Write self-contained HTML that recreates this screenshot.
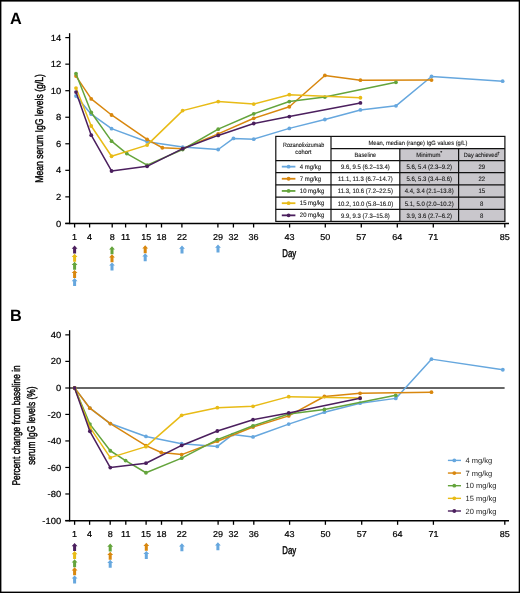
<!DOCTYPE html><html><head><meta charset="utf-8"><style>html,body{margin:0;padding:0;background:#fff}svg{display:block;will-change:transform;text-rendering:geometricPrecision;filter:blur(0.3px)}</style></head><body>
<svg width="520" height="593" viewBox="0 0 520 593" font-family='"Liberation Sans", sans-serif' fill="#000">
<rect x="0" y="0" width="520" height="593" fill="#fff"/>
<text x="10" y="23.7" font-size="16.3" font-weight="bold">A</text>
<line x1="69.6" y1="33.2" x2="69.6" y2="224.15" stroke="#000" stroke-width="1.3"/>
<line x1="65.3" y1="223.50" x2="509" y2="223.50" stroke="#000" stroke-width="1.4"/>
<line x1="65.3" y1="223.40" x2="69.6" y2="223.40" stroke="#000" stroke-width="1.2"/>
<text transform="translate(61.2,226.50) scale(1.07,1)" font-size="8.8" text-anchor="end" stroke="#000" stroke-width="0.2">0</text>
<line x1="65.3" y1="196.86" x2="69.6" y2="196.86" stroke="#000" stroke-width="1.2"/>
<text transform="translate(61.2,199.96) scale(1.07,1)" font-size="8.8" text-anchor="end" stroke="#000" stroke-width="0.2">2</text>
<line x1="65.3" y1="170.32" x2="69.6" y2="170.32" stroke="#000" stroke-width="1.2"/>
<text transform="translate(61.2,173.42) scale(1.07,1)" font-size="8.8" text-anchor="end" stroke="#000" stroke-width="0.2">4</text>
<line x1="65.3" y1="143.78" x2="69.6" y2="143.78" stroke="#000" stroke-width="1.2"/>
<text transform="translate(61.2,146.88) scale(1.07,1)" font-size="8.8" text-anchor="end" stroke="#000" stroke-width="0.2">6</text>
<line x1="65.3" y1="117.24" x2="69.6" y2="117.24" stroke="#000" stroke-width="1.2"/>
<text transform="translate(61.2,120.34) scale(1.07,1)" font-size="8.8" text-anchor="end" stroke="#000" stroke-width="0.2">8</text>
<line x1="65.3" y1="90.70" x2="69.6" y2="90.70" stroke="#000" stroke-width="1.2"/>
<text transform="translate(61.2,93.80) scale(1.07,1)" font-size="8.8" text-anchor="end" stroke="#000" stroke-width="0.2">10</text>
<line x1="65.3" y1="64.16" x2="69.6" y2="64.16" stroke="#000" stroke-width="1.2"/>
<text transform="translate(61.2,67.26) scale(1.07,1)" font-size="8.8" text-anchor="end" stroke="#000" stroke-width="0.2">12</text>
<line x1="65.3" y1="37.62" x2="69.6" y2="37.62" stroke="#000" stroke-width="1.2"/>
<text transform="translate(61.2,40.72) scale(1.07,1)" font-size="8.8" text-anchor="end" stroke="#000" stroke-width="0.2">14</text>
<line x1="74.6" y1="223.50" x2="74.6" y2="227.50" stroke="#000" stroke-width="1.3"/>
<text transform="translate(74.6,239.70) scale(1.05,1)" font-size="8.6" text-anchor="middle" stroke="#000" stroke-width="0.2">1</text>
<line x1="89.6" y1="223.50" x2="89.6" y2="227.50" stroke="#000" stroke-width="1.3"/>
<text transform="translate(89.6,239.70) scale(1.05,1)" font-size="8.6" text-anchor="middle" stroke="#000" stroke-width="0.2">4</text>
<line x1="112.2" y1="223.50" x2="112.2" y2="227.50" stroke="#000" stroke-width="1.3"/>
<text transform="translate(112.2,239.70) scale(1.05,1)" font-size="8.6" text-anchor="middle" stroke="#000" stroke-width="0.2">8</text>
<line x1="125.6" y1="223.50" x2="125.6" y2="227.50" stroke="#000" stroke-width="1.3"/>
<text transform="translate(125.6,239.70) scale(1.05,1)" font-size="8.6" text-anchor="middle" stroke="#000" stroke-width="0.2">11</text>
<line x1="146.3" y1="223.50" x2="146.3" y2="227.50" stroke="#000" stroke-width="1.3"/>
<text transform="translate(146.3,239.70) scale(1.05,1)" font-size="8.6" text-anchor="middle" stroke="#000" stroke-width="0.2">15</text>
<line x1="161.5" y1="223.50" x2="161.5" y2="227.50" stroke="#000" stroke-width="1.3"/>
<text transform="translate(161.5,239.70) scale(1.05,1)" font-size="8.6" text-anchor="middle" stroke="#000" stroke-width="0.2">18</text>
<line x1="181.9" y1="223.50" x2="181.9" y2="227.50" stroke="#000" stroke-width="1.3"/>
<text transform="translate(181.9,239.70) scale(1.05,1)" font-size="8.6" text-anchor="middle" stroke="#000" stroke-width="0.2">22</text>
<line x1="217.9" y1="223.50" x2="217.9" y2="227.50" stroke="#000" stroke-width="1.3"/>
<text transform="translate(217.9,239.70) scale(1.05,1)" font-size="8.6" text-anchor="middle" stroke="#000" stroke-width="0.2">29</text>
<line x1="233.4" y1="223.50" x2="233.4" y2="227.50" stroke="#000" stroke-width="1.3"/>
<text transform="translate(233.4,239.70) scale(1.05,1)" font-size="8.6" text-anchor="middle" stroke="#000" stroke-width="0.2">32</text>
<line x1="253.6" y1="223.50" x2="253.6" y2="227.50" stroke="#000" stroke-width="1.3"/>
<text transform="translate(253.6,239.70) scale(1.05,1)" font-size="8.6" text-anchor="middle" stroke="#000" stroke-width="0.2">36</text>
<line x1="289.6" y1="223.50" x2="289.6" y2="227.50" stroke="#000" stroke-width="1.3"/>
<text transform="translate(289.6,239.70) scale(1.05,1)" font-size="8.6" text-anchor="middle" stroke="#000" stroke-width="0.2">43</text>
<line x1="325.3" y1="223.50" x2="325.3" y2="227.50" stroke="#000" stroke-width="1.3"/>
<text transform="translate(325.3,239.70) scale(1.05,1)" font-size="8.6" text-anchor="middle" stroke="#000" stroke-width="0.2">50</text>
<line x1="361.3" y1="223.50" x2="361.3" y2="227.50" stroke="#000" stroke-width="1.3"/>
<text transform="translate(361.3,239.70) scale(1.05,1)" font-size="8.6" text-anchor="middle" stroke="#000" stroke-width="0.2">57</text>
<line x1="397.3" y1="223.50" x2="397.3" y2="227.50" stroke="#000" stroke-width="1.3"/>
<text transform="translate(397.3,239.70) scale(1.05,1)" font-size="8.6" text-anchor="middle" stroke="#000" stroke-width="0.2">64</text>
<line x1="433.3" y1="223.50" x2="433.3" y2="227.50" stroke="#000" stroke-width="1.3"/>
<text transform="translate(433.3,239.70) scale(1.05,1)" font-size="8.6" text-anchor="middle" stroke="#000" stroke-width="0.2">71</text>
<line x1="504.8" y1="223.50" x2="504.8" y2="227.50" stroke="#000" stroke-width="1.3"/>
<text transform="translate(504.8,239.70) scale(1.05,1)" font-size="8.6" text-anchor="middle" stroke="#000" stroke-width="0.2">85</text>
<text transform="translate(289.3,256.50) scale(0.7,1)" font-size="11.2" text-anchor="middle" stroke="#000" stroke-width="0.42">Day</text>
<polygon points="74.60,245.60 77.50,248.80 76.10,248.80 76.10,253.60 73.10,253.60 73.10,248.80 71.70,248.80" fill="#4b1f5e"/>
<polygon points="74.60,253.70 77.50,256.90 76.10,256.90 76.10,261.70 73.10,261.70 73.10,256.90 71.70,256.90" fill="#e8bb16"/>
<polygon points="74.60,261.80 77.50,265.00 76.10,265.00 76.10,269.80 73.10,269.80 73.10,265.00 71.70,265.00" fill="#64a43c"/>
<polygon points="74.60,269.90 77.50,273.10 76.10,273.10 76.10,277.90 73.10,277.90 73.10,273.10 71.70,273.10" fill="#d8870e"/>
<polygon points="74.60,278.00 77.50,281.20 76.10,281.20 76.10,286.00 73.10,286.00 73.10,281.20 71.70,281.20" fill="#66a7de"/>
<polygon points="112.00,246.20 114.90,249.40 113.50,249.40 113.50,254.20 110.50,254.20 110.50,249.40 109.10,249.40" fill="#64a43c"/>
<polygon points="112.00,254.30 114.90,257.50 113.50,257.50 113.50,262.30 110.50,262.30 110.50,257.50 109.10,257.50" fill="#d8870e"/>
<polygon points="112.00,262.40 114.90,265.60 113.50,265.60 113.50,270.40 110.50,270.40 110.50,265.60 109.10,265.60" fill="#66a7de"/>
<polygon points="145.20,245.20 148.10,248.40 146.70,248.40 146.70,253.20 143.70,253.20 143.70,248.40 142.30,248.40" fill="#d8870e"/>
<polygon points="145.20,253.30 148.10,256.50 146.70,256.50 146.70,261.30 143.70,261.30 143.70,256.50 142.30,256.50" fill="#66a7de"/>
<polygon points="182.00,245.60 184.90,248.80 183.50,248.80 183.50,253.60 180.50,253.60 180.50,248.80 179.10,248.80" fill="#66a7de"/>
<polygon points="218.00,244.60 220.90,247.80 219.50,247.80 219.50,252.60 216.50,252.60 216.50,247.80 215.10,247.80" fill="#66a7de"/>
<text transform="translate(43.2,128.4) rotate(-90) scale(0.77,1)" font-size="11.2" text-anchor="middle" stroke="#000" stroke-width="0.42">Mean serum IgG levels (g/L)</text>
<polyline points="76.00,96.01 91.24,114.19 111.55,128.65 147.11,141.79 182.66,147.10 218.21,149.49 233.45,138.47 253.76,139.14 289.32,128.39 324.87,119.50 360.42,109.94 395.98,105.83 431.53,76.50 502.64,81.15" fill="none" stroke="#66a7de" stroke-width="1.5" stroke-linejoin="round"/>
<circle cx="76.00" cy="96.01" r="1.9" fill="#66a7de"/>
<circle cx="91.24" cy="114.19" r="1.9" fill="#66a7de"/>
<circle cx="111.55" cy="128.65" r="1.9" fill="#66a7de"/>
<circle cx="147.11" cy="141.79" r="1.9" fill="#66a7de"/>
<circle cx="182.66" cy="147.10" r="1.9" fill="#66a7de"/>
<circle cx="218.21" cy="149.49" r="1.9" fill="#66a7de"/>
<circle cx="233.45" cy="138.47" r="1.9" fill="#66a7de"/>
<circle cx="253.76" cy="139.14" r="1.9" fill="#66a7de"/>
<circle cx="289.32" cy="128.39" r="1.9" fill="#66a7de"/>
<circle cx="324.87" cy="119.50" r="1.9" fill="#66a7de"/>
<circle cx="360.42" cy="109.94" r="1.9" fill="#66a7de"/>
<circle cx="395.98" cy="105.83" r="1.9" fill="#66a7de"/>
<circle cx="431.53" cy="76.50" r="1.9" fill="#66a7de"/>
<circle cx="502.64" cy="81.15" r="1.9" fill="#66a7de"/>
<polyline points="76.00,76.10 91.24,98.93 111.55,114.98 147.11,139.40 162.34,147.76 182.66,148.69 218.21,133.83 253.76,118.30 289.32,106.76 324.87,75.44 360.42,80.22 431.53,80.08" fill="none" stroke="#d8870e" stroke-width="1.5" stroke-linejoin="round"/>
<circle cx="76.00" cy="76.10" r="1.9" fill="#d8870e"/>
<circle cx="91.24" cy="98.93" r="1.9" fill="#d8870e"/>
<circle cx="111.55" cy="114.98" r="1.9" fill="#d8870e"/>
<circle cx="147.11" cy="139.40" r="1.9" fill="#d8870e"/>
<circle cx="162.34" cy="147.76" r="1.9" fill="#d8870e"/>
<circle cx="182.66" cy="148.69" r="1.9" fill="#d8870e"/>
<circle cx="218.21" cy="133.83" r="1.9" fill="#d8870e"/>
<circle cx="253.76" cy="118.30" r="1.9" fill="#d8870e"/>
<circle cx="289.32" cy="106.76" r="1.9" fill="#d8870e"/>
<circle cx="324.87" cy="75.44" r="1.9" fill="#d8870e"/>
<circle cx="360.42" cy="80.22" r="1.9" fill="#d8870e"/>
<circle cx="431.53" cy="80.08" r="1.9" fill="#d8870e"/>
<polyline points="76.00,73.71 91.24,112.46 111.55,141.13 126.79,153.60 147.11,165.14 182.66,149.49 218.21,129.18 253.76,113.79 289.32,101.58 324.87,97.07 395.98,82.34" fill="none" stroke="#64a43c" stroke-width="1.5" stroke-linejoin="round"/>
<circle cx="76.00" cy="73.71" r="1.9" fill="#64a43c"/>
<circle cx="91.24" cy="112.46" r="1.9" fill="#64a43c"/>
<circle cx="111.55" cy="141.13" r="1.9" fill="#64a43c"/>
<circle cx="126.79" cy="153.60" r="1.9" fill="#64a43c"/>
<circle cx="147.11" cy="165.14" r="1.9" fill="#64a43c"/>
<circle cx="182.66" cy="149.49" r="1.9" fill="#64a43c"/>
<circle cx="218.21" cy="129.18" r="1.9" fill="#64a43c"/>
<circle cx="253.76" cy="113.79" r="1.9" fill="#64a43c"/>
<circle cx="289.32" cy="101.58" r="1.9" fill="#64a43c"/>
<circle cx="324.87" cy="97.07" r="1.9" fill="#64a43c"/>
<circle cx="395.98" cy="82.34" r="1.9" fill="#64a43c"/>
<polyline points="76.00,88.05 91.24,126.00 111.55,156.25 147.11,145.11 182.66,110.61 218.21,101.58 253.76,104.10 289.32,94.68 360.42,97.73" fill="none" stroke="#e8bb16" stroke-width="1.5" stroke-linejoin="round"/>
<circle cx="76.00" cy="88.05" r="1.9" fill="#e8bb16"/>
<circle cx="91.24" cy="126.00" r="1.9" fill="#e8bb16"/>
<circle cx="111.55" cy="156.25" r="1.9" fill="#e8bb16"/>
<circle cx="147.11" cy="145.11" r="1.9" fill="#e8bb16"/>
<circle cx="182.66" cy="110.61" r="1.9" fill="#e8bb16"/>
<circle cx="218.21" cy="101.58" r="1.9" fill="#e8bb16"/>
<circle cx="253.76" cy="104.10" r="1.9" fill="#e8bb16"/>
<circle cx="289.32" cy="94.68" r="1.9" fill="#e8bb16"/>
<circle cx="360.42" cy="97.73" r="1.9" fill="#e8bb16"/>
<polyline points="76.00,92.03 91.24,135.15 111.55,170.98 147.11,166.34 182.66,148.69 218.21,135.42 253.76,123.48 289.32,116.58 360.42,102.91" fill="none" stroke="#4b1f5e" stroke-width="1.5" stroke-linejoin="round"/>
<circle cx="76.00" cy="92.03" r="1.9" fill="#4b1f5e"/>
<circle cx="91.24" cy="135.15" r="1.9" fill="#4b1f5e"/>
<circle cx="111.55" cy="170.98" r="1.9" fill="#4b1f5e"/>
<circle cx="147.11" cy="166.34" r="1.9" fill="#4b1f5e"/>
<circle cx="182.66" cy="148.69" r="1.9" fill="#4b1f5e"/>
<circle cx="218.21" cy="135.42" r="1.9" fill="#4b1f5e"/>
<circle cx="253.76" cy="123.48" r="1.9" fill="#4b1f5e"/>
<circle cx="289.32" cy="116.58" r="1.9" fill="#4b1f5e"/>
<circle cx="360.42" cy="102.91" r="1.9" fill="#4b1f5e"/>
<rect x="399.8" y="148.6" width="105.09999999999997" height="72.80000000000001" fill="#c9c7cc"/>
<rect x="275.8" y="136.4" width="229.09999999999997" height="85.0" fill="none" stroke="#111" stroke-width="1.2"/>
<line x1="331.0" y1="148.6" x2="504.9" y2="148.6" stroke="#111" stroke-width="1.2"/>
<line x1="275.8" y1="160.6" x2="504.9" y2="160.6" stroke="#111" stroke-width="1.2"/>
<line x1="275.8" y1="172.7" x2="504.9" y2="172.7" stroke="#111" stroke-width="1.2"/>
<line x1="275.8" y1="184.8" x2="504.9" y2="184.8" stroke="#111" stroke-width="1.2"/>
<line x1="275.8" y1="197.1" x2="504.9" y2="197.1" stroke="#111" stroke-width="1.2"/>
<line x1="275.8" y1="209.3" x2="504.9" y2="209.3" stroke="#111" stroke-width="1.2"/>
<line x1="331.0" y1="136.4" x2="331.0" y2="221.4" stroke="#111" stroke-width="1.2"/>
<line x1="399.8" y1="148.6" x2="399.8" y2="221.4" stroke="#111" stroke-width="1.2"/>
<line x1="458.6" y1="148.6" x2="458.6" y2="221.4" stroke="#111" stroke-width="1.2"/>
<text transform="translate(303.70,146.90) scale(0.877,1)" font-size="6.2" text-anchor="middle" fill="#1a1a1a" stroke="#1a1a1a" stroke-width="0.12">Rozanolixizumab</text>
<text transform="translate(303.40,154.10) scale(0.934,1)" font-size="6.2" text-anchor="middle" fill="#1a1a1a" stroke="#1a1a1a" stroke-width="0.12">cohort</text>
<text transform="translate(417.95,144.90) scale(0.929,1)" font-size="6.2" text-anchor="middle" fill="#1a1a1a" stroke="#1a1a1a" stroke-width="0.12">Mean, median (range) IgG values (g/L)</text>
<text transform="translate(365.40,156.60) scale(0.917,1)" font-size="6.2" text-anchor="middle" fill="#1a1a1a" stroke="#1a1a1a" stroke-width="0.12">Baseline</text>
<text transform="translate(429.20,156.60) scale(0.96,1)" font-size="6.2" text-anchor="middle" fill="#1a1a1a" stroke="#1a1a1a" stroke-width="0.12">Minimum<tspan font-size="4.4" dy="-2.2" font-weight="bold">*</tspan></text>
<text transform="translate(481.75,156.60) scale(0.9,1)" font-size="6.2" text-anchor="middle" fill="#1a1a1a" stroke="#1a1a1a" stroke-width="0.12">Day achieved<tspan font-size="4.4" dy="-2" font-weight="bold">†</tspan></text>
<line x1="281.8" y1="166.65" x2="295.4" y2="166.65" stroke="#66a7de" stroke-width="1.8"/>
<circle cx="288.6" cy="166.65" r="1.9" fill="#66a7de"/>
<text transform="translate(299.80,168.65) scale(0.92,1)" font-size="6.5" text-anchor="start" fill="#1a1a1a" stroke="#1a1a1a" stroke-width="0.12">4 mg/kg</text>
<text transform="translate(365.40,168.95) scale(0.92,1)" font-size="6.5" text-anchor="middle" fill="#1a1a1a" stroke="#1a1a1a" stroke-width="0.12">9.6, 9.5 (6.2–13.4)</text>
<text transform="translate(429.20,168.95) scale(0.92,1)" font-size="6.5" text-anchor="middle" fill="#1a1a1a" stroke="#1a1a1a" stroke-width="0.12">5.6, 5.4 (2.3–9.2)</text>
<text transform="translate(481.75,168.95) scale(0.92,1)" font-size="6.5" text-anchor="middle" fill="#1a1a1a" stroke="#1a1a1a" stroke-width="0.12">29</text>
<line x1="281.8" y1="178.75" x2="295.4" y2="178.75" stroke="#d8870e" stroke-width="1.8"/>
<circle cx="288.6" cy="178.75" r="1.9" fill="#d8870e"/>
<text transform="translate(299.80,180.75) scale(0.92,1)" font-size="6.5" text-anchor="start" fill="#1a1a1a" stroke="#1a1a1a" stroke-width="0.12">7 mg/kg</text>
<text transform="translate(365.40,181.05) scale(0.92,1)" font-size="6.5" text-anchor="middle" fill="#1a1a1a" stroke="#1a1a1a" stroke-width="0.12">11.1, 11.3 (6.7–14.7)</text>
<text transform="translate(429.20,181.05) scale(0.92,1)" font-size="6.5" text-anchor="middle" fill="#1a1a1a" stroke="#1a1a1a" stroke-width="0.12">5.6, 5.3 (3.4–8.6)</text>
<text transform="translate(481.75,181.05) scale(0.92,1)" font-size="6.5" text-anchor="middle" fill="#1a1a1a" stroke="#1a1a1a" stroke-width="0.12">22</text>
<line x1="281.8" y1="190.95" x2="295.4" y2="190.95" stroke="#64a43c" stroke-width="1.8"/>
<circle cx="288.6" cy="190.95" r="1.9" fill="#64a43c"/>
<text transform="translate(299.80,192.95) scale(0.92,1)" font-size="6.5" text-anchor="start" fill="#1a1a1a" stroke="#1a1a1a" stroke-width="0.12">10 mg/kg</text>
<text transform="translate(365.40,193.25) scale(0.92,1)" font-size="6.5" text-anchor="middle" fill="#1a1a1a" stroke="#1a1a1a" stroke-width="0.12">11.3, 10.6 (7.2–22.5)</text>
<text transform="translate(429.20,193.25) scale(0.92,1)" font-size="6.5" text-anchor="middle" fill="#1a1a1a" stroke="#1a1a1a" stroke-width="0.12">4.4, 3.4 (2.1–13.8)</text>
<text transform="translate(481.75,193.25) scale(0.92,1)" font-size="6.5" text-anchor="middle" fill="#1a1a1a" stroke="#1a1a1a" stroke-width="0.12">15</text>
<line x1="281.8" y1="203.20" x2="295.4" y2="203.20" stroke="#e8bb16" stroke-width="1.8"/>
<circle cx="288.6" cy="203.20" r="1.9" fill="#e8bb16"/>
<text transform="translate(299.80,205.20) scale(0.92,1)" font-size="6.5" text-anchor="start" fill="#1a1a1a" stroke="#1a1a1a" stroke-width="0.12">15 mg/kg</text>
<text transform="translate(365.40,205.50) scale(0.92,1)" font-size="6.5" text-anchor="middle" fill="#1a1a1a" stroke="#1a1a1a" stroke-width="0.12">10.2, 10.0 (5.8–16.0)</text>
<text transform="translate(429.20,205.50) scale(0.92,1)" font-size="6.5" text-anchor="middle" fill="#1a1a1a" stroke="#1a1a1a" stroke-width="0.12">5.1, 5.0 (2.0–10.2)</text>
<text transform="translate(481.75,205.50) scale(0.92,1)" font-size="6.5" text-anchor="middle" fill="#1a1a1a" stroke="#1a1a1a" stroke-width="0.12">8</text>
<line x1="281.8" y1="215.35" x2="295.4" y2="215.35" stroke="#4b1f5e" stroke-width="1.8"/>
<circle cx="288.6" cy="215.35" r="1.9" fill="#4b1f5e"/>
<text transform="translate(299.80,217.35) scale(0.92,1)" font-size="6.5" text-anchor="start" fill="#1a1a1a" stroke="#1a1a1a" stroke-width="0.12">20 mg/kg</text>
<text transform="translate(365.40,217.65) scale(0.92,1)" font-size="6.5" text-anchor="middle" fill="#1a1a1a" stroke="#1a1a1a" stroke-width="0.12">9.9, 9.3 (7.3–15.8)</text>
<text transform="translate(429.20,217.65) scale(0.92,1)" font-size="6.5" text-anchor="middle" fill="#1a1a1a" stroke="#1a1a1a" stroke-width="0.12">3.9, 3.6 (2.7–6.2)</text>
<text transform="translate(481.75,217.65) scale(0.92,1)" font-size="6.5" text-anchor="middle" fill="#1a1a1a" stroke="#1a1a1a" stroke-width="0.12">8</text>
<text x="10" y="320.7" font-size="16.3" font-weight="bold">B</text>
<line x1="65.3" y1="387.95" x2="504.6" y2="387.95" stroke="#333" stroke-width="1.4"/>
<line x1="69.6" y1="330.2" x2="69.6" y2="521.45" stroke="#000" stroke-width="1.3"/>
<line x1="65.3" y1="520.80" x2="509" y2="520.80" stroke="#000" stroke-width="1.4"/>
<line x1="65.3" y1="520.50" x2="69.6" y2="520.50" stroke="#000" stroke-width="1.2"/>
<text transform="translate(61.2,523.60) scale(1.07,1)" font-size="8.8" text-anchor="end" stroke="#000" stroke-width="0.2">-100</text>
<line x1="65.3" y1="493.98" x2="69.6" y2="493.98" stroke="#000" stroke-width="1.2"/>
<text transform="translate(61.2,497.08) scale(1.07,1)" font-size="8.8" text-anchor="end" stroke="#000" stroke-width="0.2">-80</text>
<line x1="65.3" y1="467.46" x2="69.6" y2="467.46" stroke="#000" stroke-width="1.2"/>
<text transform="translate(61.2,470.56) scale(1.07,1)" font-size="8.8" text-anchor="end" stroke="#000" stroke-width="0.2">-60</text>
<line x1="65.3" y1="440.94" x2="69.6" y2="440.94" stroke="#000" stroke-width="1.2"/>
<text transform="translate(61.2,444.04) scale(1.07,1)" font-size="8.8" text-anchor="end" stroke="#000" stroke-width="0.2">-40</text>
<line x1="65.3" y1="414.42" x2="69.6" y2="414.42" stroke="#000" stroke-width="1.2"/>
<text transform="translate(61.2,417.52) scale(1.07,1)" font-size="8.8" text-anchor="end" stroke="#000" stroke-width="0.2">-20</text>
<text transform="translate(61.2,391.00) scale(1.07,1)" font-size="8.8" text-anchor="end" stroke="#000" stroke-width="0.2">0</text>
<line x1="65.3" y1="361.38" x2="69.6" y2="361.38" stroke="#000" stroke-width="1.2"/>
<text transform="translate(61.2,364.48) scale(1.07,1)" font-size="8.8" text-anchor="end" stroke="#000" stroke-width="0.2">20</text>
<line x1="65.3" y1="334.86" x2="69.6" y2="334.86" stroke="#000" stroke-width="1.2"/>
<text transform="translate(61.2,337.96) scale(1.07,1)" font-size="8.8" text-anchor="end" stroke="#000" stroke-width="0.2">40</text>
<line x1="74.6" y1="520.80" x2="74.6" y2="524.80" stroke="#000" stroke-width="1.3"/>
<text transform="translate(74.6,537.00) scale(1.05,1)" font-size="8.6" text-anchor="middle" stroke="#000" stroke-width="0.2">1</text>
<line x1="89.6" y1="520.80" x2="89.6" y2="524.80" stroke="#000" stroke-width="1.3"/>
<text transform="translate(89.6,537.00) scale(1.05,1)" font-size="8.6" text-anchor="middle" stroke="#000" stroke-width="0.2">4</text>
<line x1="110.2" y1="520.80" x2="110.2" y2="524.80" stroke="#000" stroke-width="1.3"/>
<text transform="translate(110.2,537.00) scale(1.05,1)" font-size="8.6" text-anchor="middle" stroke="#000" stroke-width="0.2">8</text>
<line x1="125.8" y1="520.80" x2="125.8" y2="524.80" stroke="#000" stroke-width="1.3"/>
<text transform="translate(125.8,537.00) scale(1.05,1)" font-size="8.6" text-anchor="middle" stroke="#000" stroke-width="0.2">11</text>
<line x1="146.1" y1="520.80" x2="146.1" y2="524.80" stroke="#000" stroke-width="1.3"/>
<text transform="translate(146.1,537.00) scale(1.05,1)" font-size="8.6" text-anchor="middle" stroke="#000" stroke-width="0.2">15</text>
<line x1="161.5" y1="520.80" x2="161.5" y2="524.80" stroke="#000" stroke-width="1.3"/>
<text transform="translate(161.5,537.00) scale(1.05,1)" font-size="8.6" text-anchor="middle" stroke="#000" stroke-width="0.2">18</text>
<line x1="181.8" y1="520.80" x2="181.8" y2="524.80" stroke="#000" stroke-width="1.3"/>
<text transform="translate(181.8,537.00) scale(1.05,1)" font-size="8.6" text-anchor="middle" stroke="#000" stroke-width="0.2">22</text>
<line x1="218.1" y1="520.80" x2="218.1" y2="524.80" stroke="#000" stroke-width="1.3"/>
<text transform="translate(218.1,537.00) scale(1.05,1)" font-size="8.6" text-anchor="middle" stroke="#000" stroke-width="0.2">29</text>
<line x1="233.5" y1="520.80" x2="233.5" y2="524.80" stroke="#000" stroke-width="1.3"/>
<text transform="translate(233.5,537.00) scale(1.05,1)" font-size="8.6" text-anchor="middle" stroke="#000" stroke-width="0.2">32</text>
<line x1="253.8" y1="520.80" x2="253.8" y2="524.80" stroke="#000" stroke-width="1.3"/>
<text transform="translate(253.8,537.00) scale(1.05,1)" font-size="8.6" text-anchor="middle" stroke="#000" stroke-width="0.2">36</text>
<line x1="289.6" y1="520.80" x2="289.6" y2="524.80" stroke="#000" stroke-width="1.3"/>
<text transform="translate(289.6,537.00) scale(1.05,1)" font-size="8.6" text-anchor="middle" stroke="#000" stroke-width="0.2">43</text>
<line x1="325.4" y1="520.80" x2="325.4" y2="524.80" stroke="#000" stroke-width="1.3"/>
<text transform="translate(325.4,537.00) scale(1.05,1)" font-size="8.6" text-anchor="middle" stroke="#000" stroke-width="0.2">50</text>
<line x1="361.7" y1="520.80" x2="361.7" y2="524.80" stroke="#000" stroke-width="1.3"/>
<text transform="translate(361.7,537.00) scale(1.05,1)" font-size="8.6" text-anchor="middle" stroke="#000" stroke-width="0.2">57</text>
<line x1="397.6" y1="520.80" x2="397.6" y2="524.80" stroke="#000" stroke-width="1.3"/>
<text transform="translate(397.6,537.00) scale(1.05,1)" font-size="8.6" text-anchor="middle" stroke="#000" stroke-width="0.2">64</text>
<line x1="433.4" y1="520.80" x2="433.4" y2="524.80" stroke="#000" stroke-width="1.3"/>
<text transform="translate(433.4,537.00) scale(1.05,1)" font-size="8.6" text-anchor="middle" stroke="#000" stroke-width="0.2">71</text>
<line x1="504.8" y1="520.80" x2="504.8" y2="524.80" stroke="#000" stroke-width="1.3"/>
<text transform="translate(504.8,537.00) scale(1.05,1)" font-size="8.6" text-anchor="middle" stroke="#000" stroke-width="0.2">85</text>
<text transform="translate(289.3,553.80) scale(0.7,1)" font-size="11.2" text-anchor="middle" stroke="#000" stroke-width="0.42">Day</text>
<polygon points="74.60,543.00 77.50,546.20 76.10,546.20 76.10,551.00 73.10,551.00 73.10,546.20 71.70,546.20" fill="#4b1f5e"/>
<polygon points="74.60,551.10 77.50,554.30 76.10,554.30 76.10,559.10 73.10,559.10 73.10,554.30 71.70,554.30" fill="#e8bb16"/>
<polygon points="74.60,559.20 77.50,562.40 76.10,562.40 76.10,567.20 73.10,567.20 73.10,562.40 71.70,562.40" fill="#64a43c"/>
<polygon points="74.60,567.30 77.50,570.50 76.10,570.50 76.10,575.30 73.10,575.30 73.10,570.50 71.70,570.50" fill="#d8870e"/>
<polygon points="74.60,575.40 77.50,578.60 76.10,578.60 76.10,583.40 73.10,583.40 73.10,578.60 71.70,578.60" fill="#66a7de"/>
<polygon points="110.20,543.60 113.10,546.80 111.70,546.80 111.70,551.60 108.70,551.60 108.70,546.80 107.30,546.80" fill="#64a43c"/>
<polygon points="110.20,551.70 113.10,554.90 111.70,554.90 111.70,559.70 108.70,559.70 108.70,554.90 107.30,554.90" fill="#d8870e"/>
<polygon points="110.20,559.80 113.10,563.00 111.70,563.00 111.70,567.80 108.70,567.80 108.70,563.00 107.30,563.00" fill="#66a7de"/>
<polygon points="146.30,542.80 149.20,546.00 147.80,546.00 147.80,550.80 144.80,550.80 144.80,546.00 143.40,546.00" fill="#d8870e"/>
<polygon points="146.30,550.90 149.20,554.10 147.80,554.10 147.80,558.90 144.80,558.90 144.80,554.10 143.40,554.10" fill="#66a7de"/>
<polygon points="181.90,543.20 184.80,546.40 183.40,546.40 183.40,551.20 180.40,551.20 180.40,546.40 179.00,546.40" fill="#66a7de"/>
<polygon points="217.90,542.20 220.80,545.40 219.40,545.40 219.40,550.20 216.40,550.20 216.40,545.40 215.00,545.40" fill="#66a7de"/>
<text transform="translate(20.3,425.4) rotate(-90) scale(0.75,1)" font-size="11.2" text-anchor="middle" stroke="#000" stroke-width="0.42">Percent change from baseline in</text>
<text transform="translate(34.6,425.7) rotate(-90) scale(0.75,1)" font-size="11.2" text-anchor="middle" stroke="#000" stroke-width="0.42">serum IgG levels (%)</text>
<polyline points="74.60,387.90 89.89,408.19 110.29,423.57 145.97,436.43 181.66,443.72 217.34,446.38 232.64,434.58 253.03,436.96 288.72,424.10 324.40,412.17 360.09,403.15 395.77,398.38 431.46,359.13 502.83,369.73" fill="none" stroke="#66a7de" stroke-width="1.5" stroke-linejoin="round"/>
<circle cx="74.60" cy="387.90" r="1.9" fill="#66a7de"/>
<circle cx="89.89" cy="408.19" r="1.9" fill="#66a7de"/>
<circle cx="110.29" cy="423.57" r="1.9" fill="#66a7de"/>
<circle cx="145.97" cy="436.43" r="1.9" fill="#66a7de"/>
<circle cx="181.66" cy="443.72" r="1.9" fill="#66a7de"/>
<circle cx="217.34" cy="446.38" r="1.9" fill="#66a7de"/>
<circle cx="232.64" cy="434.58" r="1.9" fill="#66a7de"/>
<circle cx="253.03" cy="436.96" r="1.9" fill="#66a7de"/>
<circle cx="288.72" cy="424.10" r="1.9" fill="#66a7de"/>
<circle cx="324.40" cy="412.17" r="1.9" fill="#66a7de"/>
<circle cx="360.09" cy="403.15" r="1.9" fill="#66a7de"/>
<circle cx="395.77" cy="398.38" r="1.9" fill="#66a7de"/>
<circle cx="431.46" cy="359.13" r="1.9" fill="#66a7de"/>
<circle cx="502.83" cy="369.73" r="1.9" fill="#66a7de"/>
<polyline points="74.60,387.90 89.89,408.19 110.29,423.57 145.97,445.58 161.27,452.48 181.66,454.60 217.34,441.21 253.03,427.02 288.72,415.88 324.40,396.52 360.09,393.34 431.46,392.14" fill="none" stroke="#d8870e" stroke-width="1.5" stroke-linejoin="round"/>
<circle cx="74.60" cy="387.90" r="1.9" fill="#d8870e"/>
<circle cx="89.89" cy="408.19" r="1.9" fill="#d8870e"/>
<circle cx="110.29" cy="423.57" r="1.9" fill="#d8870e"/>
<circle cx="145.97" cy="445.58" r="1.9" fill="#d8870e"/>
<circle cx="161.27" cy="452.48" r="1.9" fill="#d8870e"/>
<circle cx="181.66" cy="454.60" r="1.9" fill="#d8870e"/>
<circle cx="217.34" cy="441.21" r="1.9" fill="#d8870e"/>
<circle cx="253.03" cy="427.02" r="1.9" fill="#d8870e"/>
<circle cx="288.72" cy="415.88" r="1.9" fill="#d8870e"/>
<circle cx="324.40" cy="396.52" r="1.9" fill="#d8870e"/>
<circle cx="360.09" cy="393.34" r="1.9" fill="#d8870e"/>
<circle cx="431.46" cy="392.14" r="1.9" fill="#d8870e"/>
<polyline points="74.60,387.90 89.89,424.10 110.29,450.75 125.58,460.56 145.97,472.76 181.66,458.18 217.34,439.61 253.03,425.82 288.72,414.02 324.40,409.51 395.77,395.33" fill="none" stroke="#64a43c" stroke-width="1.5" stroke-linejoin="round"/>
<circle cx="74.60" cy="387.90" r="1.9" fill="#64a43c"/>
<circle cx="89.89" cy="424.10" r="1.9" fill="#64a43c"/>
<circle cx="110.29" cy="450.75" r="1.9" fill="#64a43c"/>
<circle cx="125.58" cy="460.56" r="1.9" fill="#64a43c"/>
<circle cx="145.97" cy="472.76" r="1.9" fill="#64a43c"/>
<circle cx="181.66" cy="458.18" r="1.9" fill="#64a43c"/>
<circle cx="217.34" cy="439.61" r="1.9" fill="#64a43c"/>
<circle cx="253.03" cy="425.82" r="1.9" fill="#64a43c"/>
<circle cx="288.72" cy="414.02" r="1.9" fill="#64a43c"/>
<circle cx="324.40" cy="409.51" r="1.9" fill="#64a43c"/>
<circle cx="395.77" cy="395.33" r="1.9" fill="#64a43c"/>
<polyline points="74.60,387.90 89.89,427.41 110.29,457.65 145.97,446.64 181.66,415.35 217.34,407.66 253.03,406.33 288.72,396.65 360.09,397.98" fill="none" stroke="#e8bb16" stroke-width="1.5" stroke-linejoin="round"/>
<circle cx="74.60" cy="387.90" r="1.9" fill="#e8bb16"/>
<circle cx="89.89" cy="427.41" r="1.9" fill="#e8bb16"/>
<circle cx="110.29" cy="457.65" r="1.9" fill="#e8bb16"/>
<circle cx="145.97" cy="446.64" r="1.9" fill="#e8bb16"/>
<circle cx="181.66" cy="415.35" r="1.9" fill="#e8bb16"/>
<circle cx="217.34" cy="407.66" r="1.9" fill="#e8bb16"/>
<circle cx="253.03" cy="406.33" r="1.9" fill="#e8bb16"/>
<circle cx="288.72" cy="396.65" r="1.9" fill="#e8bb16"/>
<circle cx="360.09" cy="397.98" r="1.9" fill="#e8bb16"/>
<polyline points="74.60,387.90 89.89,431.26 110.29,467.59 145.97,463.22 181.66,445.45 217.34,431.00 253.03,419.72 288.72,412.96 360.09,398.24" fill="none" stroke="#4b1f5e" stroke-width="1.5" stroke-linejoin="round"/>
<circle cx="74.60" cy="387.90" r="1.9" fill="#4b1f5e"/>
<circle cx="89.89" cy="431.26" r="1.9" fill="#4b1f5e"/>
<circle cx="110.29" cy="467.59" r="1.9" fill="#4b1f5e"/>
<circle cx="145.97" cy="463.22" r="1.9" fill="#4b1f5e"/>
<circle cx="181.66" cy="445.45" r="1.9" fill="#4b1f5e"/>
<circle cx="217.34" cy="431.00" r="1.9" fill="#4b1f5e"/>
<circle cx="253.03" cy="419.72" r="1.9" fill="#4b1f5e"/>
<circle cx="288.72" cy="412.96" r="1.9" fill="#4b1f5e"/>
<circle cx="360.09" cy="398.24" r="1.9" fill="#4b1f5e"/>
<line x1="447.9" y1="460.40" x2="461" y2="460.40" stroke="#66a7de" stroke-width="1.4"/>
<circle cx="454.3" cy="460.40" r="1.9" fill="#66a7de"/>
<text x="465.6" y="463.10" font-size="7.5" fill="#222">4 mg/kg</text>
<line x1="447.9" y1="473.05" x2="461" y2="473.05" stroke="#d8870e" stroke-width="1.4"/>
<circle cx="454.3" cy="473.05" r="1.9" fill="#d8870e"/>
<text x="465.6" y="475.75" font-size="7.5" fill="#222">7 mg/kg</text>
<line x1="447.9" y1="485.70" x2="461" y2="485.70" stroke="#64a43c" stroke-width="1.4"/>
<circle cx="454.3" cy="485.70" r="1.9" fill="#64a43c"/>
<text x="465.6" y="488.40" font-size="7.5" fill="#222">10 mg/kg</text>
<line x1="447.9" y1="498.35" x2="461" y2="498.35" stroke="#e8bb16" stroke-width="1.4"/>
<circle cx="454.3" cy="498.35" r="1.9" fill="#e8bb16"/>
<text x="465.6" y="501.05" font-size="7.5" fill="#222">15 mg/kg</text>
<line x1="447.9" y1="511.00" x2="461" y2="511.00" stroke="#4b1f5e" stroke-width="1.4"/>
<circle cx="454.3" cy="511.00" r="1.9" fill="#4b1f5e"/>
<text x="465.6" y="513.70" font-size="7.5" fill="#222">20 mg/kg</text>
<rect x="0" y="0" width="1.4" height="593" fill="#000"/>
<rect x="0" y="0" width="520" height="1.6" fill="#000"/>
<rect x="518.7" y="0" width="1.3" height="593" fill="#000"/>
<rect x="0" y="591.6" width="520" height="1.4" fill="#000"/>
</svg></body></html>
